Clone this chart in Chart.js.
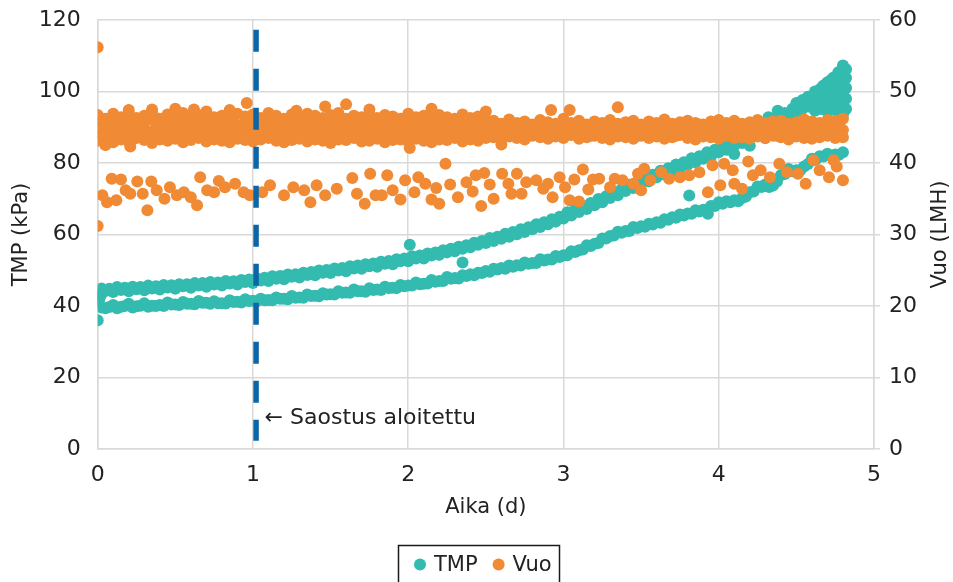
<!DOCTYPE html>
<html>
<head>
<meta charset="utf-8">
<script src="https://cdn.jsdelivr.net/npm/chart.js@4.4.1/dist/chart.umd.min.js"></script>
<style>
  html, body { margin: 0; padding: 0; background: #ffffff; }
</style>
</head>
<body>
<canvas id="chart" width="953" height="582"></canvas>
<script>
// Sample times (d) used by the dense bands
const sampleDays = [
  0.00,0.05,0.10,0.15,0.20,0.25,0.30,0.35,0.40,0.45,
  0.50,0.55,0.60,0.65,0.70,0.75,0.80,0.85,0.90,0.95,
  1.00,1.05,1.10,1.15,1.20,1.25,1.30,1.35,1.40,1.45,
  1.50,1.55,1.60,1.65,1.70,1.75,1.80,1.85,1.90,1.95,
  2.00,2.05,2.10,2.15,2.20,2.25,2.30,2.35,2.40,2.45,
  2.50,2.55,2.60,2.65,2.70,2.75,2.80,2.85,2.90,2.95,
  3.00,3.05,3.10,3.15,3.20,3.25,3.30,3.35,3.40,3.45,
  3.50,3.55,3.60,3.65,3.70,3.75,3.80,3.85,3.90,3.95,
  4.00,4.05,4.10,4.15,4.20,4.25,4.30,4.35,4.40,4.45,
  4.50,4.55,4.60,4.65,4.70,4.75,4.80
];
// in-between sample times (d)
const midDays = [
  0.025,0.075,0.125,0.175,0.225,0.275,0.325,0.375,0.425,0.475,
  0.525,0.575,0.625,0.675,0.725,0.775,0.825,0.875,0.925,0.975,
  1.025,1.075,1.125,1.175,1.225,1.275,1.325,1.375,1.425,1.475,
  1.525,1.575,1.625,1.675,1.725,1.775,1.825,1.875,1.925,1.975,
  2.025,2.075,2.125,2.175,2.225,2.275,2.325,2.375,2.425,2.475,
  2.525,2.575,2.625,2.675,2.725,2.775,2.825,2.875,2.925,2.975,
  3.025,3.075,3.125,3.175,3.225,3.275,3.325,3.375,3.425,3.475,
  3.525,3.575,3.625,3.675,3.725,3.775,3.825,3.875,3.925,3.975,
  4.025,4.075,4.125,4.175,4.225,4.275,4.325,4.375,4.425,4.475,
  4.525,4.575,4.625,4.675,4.725,4.775
];

// TMP (kPa) – upper band
const tmpUpperKpa = [
  43.6,44.2,43.9,44.5,44.1,44.7,44.4,44.9,44.6,45.2,
  44.8,45.5,45.1,45.7,45.4,46.0,45.7,46.3,46.0,46.7,
  46.4,47.1,47.0,47.6,47.5,48.2,48.0,48.7,48.6,49.3,
  49.2,49.9,49.7,50.5,50.4,51.1,51.0,51.8,51.7,52.5,
  52.5,53.3,53.3,54.1,54.3,55.0,55.3,56.0,56.4,57.1,
  57.6,58.2,58.8,59.4,60.1,60.7,61.5,62.1,62.9,63.6,
  64.5,65.3,66.3,67.1,68.2,69.0,70.2,71.0,72.2,73.0,
  74.1,74.9,76.0,76.8,77.8,78.5,79.5,80.2,81.2,81.9,
  83.0,83.7,84.9,85.6,86.9,87.8,89.2,90.3,91.8,93.0,
  94.5,95.9,97.4,99.0,100.6,102.4,104.5
];
const tmpUpperMidKpa = [
  44.9,44.8,45.3,45.1,45.4,45.3,45.7,45.5,45.9,45.8,
  46.1,46.1,46.4,46.4,46.7,46.6,47.0,46.9,47.3,47.4,
  47.7,47.9,48.3,48.4,48.8,48.9,49.3,49.5,49.9,50.1,
  50.5,50.6,51.1,51.3,51.7,51.9,52.4,52.6,53.1,53.3,
  53.9,54.1,54.7,55.0,55.6,56.0,56.6,57.0,57.7,58.2,
  59.0,59.4,60.2,60.7,61.5,62.0,62.9,63.4,64.3,65.0,
  66.2,66.9,68.0,68.8,69.9,70.7,71.9,72.7,73.9,74.7,
  75.9,76.7,77.8,78.5,79.6,80.2,81.3,81.9,83.0,83.7,
  84.9,85.7,86.8,87.7,88.9,89.9,91.3,92.5,94.0,95.2,
  97.0,98.5,100.0,101.7,103.3,105.3
];

// TMP (kPa) – lower band
const tmpLowerKpa = [
  41.2,39.4,40.3,39.8,40.6,39.9,40.8,40.1,40.3,41.0,
  40.4,41.1,40.6,41.4,40.9,41.3,40.8,41.6,41.2,41.9,
  41.5,42.0,41.7,42.4,42.0,42.8,42.4,43.2,42.9,43.6,
  43.3,44.1,43.8,44.6,44.1,45.0,44.6,45.4,45.1,45.9,
  45.7,46.6,46.2,47.3,47.0,48.1,47.8,48.6,48.9,49.3,
  49.8,50.4,50.6,51.3,51.4,52.2,52.0,53.1,53.0,54.0,
  54.2,55.3,55.6,57.0,57.4,58.9,59.6,60.8,61.0,62.1,
  62.3,63.0,63.4,64.3,64.8,65.6,65.9,66.8,66.9,68.0,
  69.0,69.3,69.6,70.2,71.8,73.4,74.0,73.7,76.6,78.3,
  78.0,79.0,81.2,81.9,82.6,82.4,83.0
];
const tmpLowerMidKpa = [
  39.6,39.7,39.4,40.0,39.6,40.1,39.8,40.0,40.0,40.4,
  40.3,40.6,40.5,40.9,40.6,40.8,40.7,41.1,41.0,41.4,
  41.3,41.6,41.6,42.0,41.9,42.3,42.3,42.8,42.7,43.2,
  43.2,43.7,43.7,44.1,44.0,44.5,44.5,45.0,45.0,45.5,
  45.7,46.1,46.3,46.8,47.0,47.6,47.7,48.4,48.6,49.2,
  49.6,50.2,50.4,51.0,51.3,51.8,52.0,52.7,53.0,53.7,
  54.2,55.1,55.8,56.8,57.6,58.9,59.7,60.5,61.0,61.8,
  62.2,62.8,63.3,64.1,64.7,65.3,65.8,66.4,66.9,68.0,
  68.6,69.0,69.3,70.6,72.0,73.3,73.3,74.8,76.9,77.7,
  78.0,79.7,81.0,81.8,82.0,82.3
];

// TMP – widening cluster at the end of the run
const tmpFanDays = [
  4.05,4.15,4.25,4.32,4.38,4.10,4.20,4.30,4.38,
  4.50,4.50,4.54,4.54,4.58,4.58,
  4.62,4.62,4.62,4.66,4.66,4.66,
  4.70,4.70,4.70,4.70,4.74,4.74,4.74,4.74,
  4.77,4.77,4.77,4.77,4.77,
  4.80,4.80,4.80,4.80,4.80,4.80,
  4.82,4.82,4.82,4.82,4.82
];
const tmpFanKpa = [
  85.5,88.0,90.5,92.8,94.6,82.5,84.8,87.0,88.6,
  94.5,96.8,95.2,97.6,95.8,98.5,
  94.6,97.2,100.0,95.1,98.0,101.0,
  94.4,97.3,100.1,102.6,95.0,98.1,101.2,103.9,
  94.2,97.0,100.0,102.9,105.4,
  93.6,96.4,99.4,102.3,104.9,107.3,
  95.1,98.0,101.0,103.8,106.2
];

// TMP – single stray points
const tmpOutlierDays = [0.00,0.00,0.01,0.02,2.01,2.35,3.81,3.93];
const tmpOutlierKpa  = [36.0,42.6,41.8,43.0,57.1,52.2,70.9,65.8];

// Vuo (LMH) – main band, layered readings
const vuoTopLmh = [
  46.7,46.2,46.9,46.4,47.0,46.3,46.6,47.1,46.2,46.8,
  46.5,47.0,46.3,46.7,47.2,46.4,46.6,46.1,46.9,46.5,
  46.8,46.3,47.0,46.6,46.2,46.8,46.4,46.9,46.6,46.3,
  46.7,47.0,46.2,46.6,46.4,46.8,46.3,46.7,46.5,46.2,
  46.9,46.4,46.6,46.1,46.7,46.4,46.2,46.8,46.3,46.5,
  46.0,45.9,45.5,46.1,45.6,45.8,45.4,46.0,45.7,45.5,
  46.2,45.6,45.9,45.4,45.8,45.6,46.0,45.5,45.7,45.9,
  45.4,45.8,45.6,46.1,45.5,45.7,45.9,45.6,45.4,45.8,
  46.0,45.6,45.9,45.5,45.7,46.0,45.6,45.8,45.9,45.5,
  45.7,46.1,45.8,45.6,46.0,45.9,46.2
];
const vuoUpperMidLmh = [
  45.8,45.4,46.1,45.6,45.9,45.3,46.0,45.7,45.5,46.2,
  45.6,45.9,45.4,46.1,45.7,45.5,46.0,45.8,45.3,45.9,
  45.7,46.1,45.5,45.8,45.6,46.0,45.4,45.9,45.7,45.5,
  46.1,45.6,45.8,45.4,46.0,45.7,45.5,45.9,45.6,45.8,
  45.4,46.0,45.7,45.5,45.9,45.6,45.8,45.4,46.0,45.7,
  45.1,45.4,45.0,45.3,44.9,45.2,45.4,45.0,45.3,44.8,
  45.2,45.0,45.4,44.9,45.1,45.3,45.0,45.2,44.8,45.3,
  45.1,44.9,45.3,45.0,45.2,44.8,45.1,45.4,45.0,45.2,
  44.9,45.3,45.1,44.8,45.2,45.0,45.3,44.9,45.1,45.4,
  45.0,45.2,44.9,45.3,45.1,45.2
];
const vuoMidLmh = [
  44.9,44.6,45.1,44.7,44.5,45.0,44.8,44.4,45.2,44.7,
  44.9,44.5,45.0,44.8,44.6,45.1,44.7,44.9,44.4,45.0,
  44.8,44.6,45.1,44.5,44.9,44.7,45.0,44.6,44.8,45.2,
  44.5,44.9,44.7,44.4,45.0,44.8,44.6,45.1,44.7,44.9,
  44.5,44.8,45.0,44.6,44.9,44.4,44.8,44.7,45.0,44.5,
  44.8,44.6,44.4,44.8,44.5,44.3,44.7,44.5,44.9,44.4,
  44.6,44.2,44.7,44.5,44.8,44.3,44.6,44.4,44.9,44.5,
  44.3,44.7,44.6,44.4,44.8,44.5,44.2,44.6,44.7,44.4,
  44.5,44.8,44.3,44.6,44.5,44.7,44.4,44.6,44.8,44.5,
  44.3,44.7,44.6,44.4,44.8,44.5,44.6
];
const vuoLowerMidLmh = [
  44.0,44.3,43.9,44.2,44.4,43.8,44.1,44.3,44.0,44.2,
  43.9,44.3,44.1,43.8,44.2,44.0,44.4,43.9,44.1,44.3,
  44.0,43.8,44.2,44.1,44.4,43.9,44.0,44.3,44.1,43.8,
  44.2,44.0,44.3,43.9,44.1,44.4,44.0,43.8,44.2,44.1,
  43.9,44.3,44.0,44.2,43.8,44.1,44.3,44.0,43.9,44.2,
  44.0,43.9,44.2,44.0,44.1,43.8,44.1,44.0,43.9,44.2,
  43.9,44.1,44.0,43.8,44.2,44.0,43.9,44.1,44.0,43.8,
  44.2,44.0,43.9,44.1,43.8,44.0,44.2,43.9,44.1,44.0,
  43.8,44.1,44.0,44.2,43.9,44.0,44.1,43.8,44.2,44.0,
  43.9,44.1,44.0,43.9,44.2,44.0
];
const vuoLowLmh = [
  43.1,43.4,42.9,43.3,43.0,43.5,43.2,42.8,43.3,43.1,
  43.4,42.9,43.2,43.5,43.0,43.3,43.1,42.9,43.4,43.2,
  43.0,43.3,43.5,43.1,42.9,43.2,43.4,43.0,43.3,43.1,
  42.8,43.3,43.2,43.5,43.0,43.1,43.4,42.9,43.2,43.3,
  43.0,43.4,43.1,42.9,43.3,43.2,43.5,43.0,43.3,43.1,
  43.5,43.6,43.4,43.7,43.5,43.3,43.8,43.6,43.4,43.7,
  43.5,43.9,43.4,43.6,43.8,43.5,43.3,43.7,43.6,43.4,
  43.8,43.5,43.7,43.4,43.6,43.9,43.5,43.3,43.7,43.6,
  43.4,43.8,43.5,43.6,43.4,43.7,43.5,43.8,43.6,43.3,
  43.7,43.5,43.4,43.6,43.8,43.5,43.6
];

// Vuo – lower scattered readings
const vuoScatterDays = [
  0.00,0.03,0.06,0.09,0.12,0.15,0.18,0.21,0.255,0.29,
  0.32,0.345,0.38,0.43,0.465,0.51,0.555,0.60,0.64,0.66,
  0.705,0.75,0.78,0.82,0.885,0.94,0.98,1.06,1.11,1.20,
  1.26,1.33,1.37,1.41,1.465,1.54,1.64,1.67,1.72,1.755,
  1.79,1.83,1.865,1.90,1.95,1.98,2.04,2.065,2.11,2.15,
  2.18,2.20,2.24,2.27,2.32,2.375,2.415,2.435,2.47,2.49,
  2.525,2.55,2.605,2.645,2.665,2.70,2.73,2.76,2.825,2.87,
  2.90,2.93,2.975,3.01,3.04,3.07,3.10,3.125,3.16,3.19,
  3.23,3.30,3.33,3.38,3.45,3.48,3.50,3.52,3.56,3.63,
  3.68,3.75,3.81,3.875,3.93,3.96,4.01,4.035,4.09,4.10,
  4.15,4.19,4.22,4.27,4.33,4.39,4.44,4.51,4.56,4.61,
  4.65,4.71,4.74,4.76,4.80
];
const vuoScatterLmh = [
  31.2,35.5,34.5,37.8,34.8,37.7,36.2,35.7,37.4,35.7,
  33.4,37.4,36.2,35.0,36.6,35.5,35.9,35.2,34.1,38.0,
  36.2,35.9,37.5,36.6,37.1,35.9,35.5,35.9,36.9,35.5,
  36.6,36.2,34.5,36.9,35.5,36.4,37.9,35.7,34.3,38.5,
  35.5,35.5,38.3,36.2,34.9,37.6,35.9,38.0,37.1,34.9,
  36.5,34.3,39.9,37.0,35.2,37.3,36.0,38.3,34.0,38.6,
  37.0,35.0,38.5,37.1,35.7,38.5,35.7,37.3,37.6,36.4,
  37.1,35.2,38.0,36.6,34.8,37.7,34.6,39.1,36.3,37.7,
  37.8,36.6,37.8,37.6,37.1,38.5,36.2,39.2,37.6,38.7,
  37.8,38.0,38.3,38.7,35.9,39.7,36.9,39.9,39.0,37.1,
  36.4,40.2,38.3,39.0,38.0,39.9,38.7,38.5,37.1,40.4,
  39.0,38.0,40.4,39.5,37.6
];

// Vuo – single stray points around the main band
const vuoOutlierDays = [0.00,0.20,0.35,0.50,0.62,0.85,0.96,1.28,1.465,1.60,1.75,2.15,2.50,2.92,3.04,3.35,0.21,2.01,0.05,2.60];
const vuoOutlierLmh  = [56.2,47.4,47.5,47.6,47.5,47.4,48.4,47.3,47.9,48.2,47.5,47.6,47.2,47.4,47.4,47.8,42.3,42.1,42.5,42.6];

// start of concentration marker
const startDay = 1.02;
const markerKpa = [117.3, 2.3];
const noteText = '\u2190 Saostus aloitettu';
const noteDay = 1.075;
const noteKpa = 8.7;

const legendLabels = ['TMP', 'Vuo'];

const tmpColor = '#33bbb0';
const vuoColor = '#f08a34';
const markerColor = '#0b66a8';
const gridColor = '#d9d9d9';
const textColor = '#222222';
const fontFamily = "'DejaVu Sans', 'Liberation Sans', sans-serif";

function toPoints(days, values) {
    const pts = [];
    for (let i = 0; i < days.length && i < values.length; i++) {
        pts.push({ x: days[i], y: values[i] });
    }
    return pts;
}

const tmpPoints = [].concat(
    toPoints(sampleDays, tmpUpperKpa),
    toPoints(midDays, tmpUpperMidKpa),
    toPoints(sampleDays, tmpLowerKpa),
    toPoints(midDays, tmpLowerMidKpa),
    toPoints(tmpFanDays, tmpFanKpa),
    toPoints(tmpOutlierDays, tmpOutlierKpa)
);
const vuoPoints = [].concat(
    toPoints(sampleDays, vuoTopLmh),
    toPoints(midDays, vuoUpperMidLmh),
    toPoints(sampleDays, vuoMidLmh),
    toPoints(midDays, vuoLowerMidLmh),
    toPoints(sampleDays, vuoLowLmh),
    toPoints(vuoScatterDays, vuoScatterLmh),
    toPoints(vuoOutlierDays, vuoOutlierLmh)
);

// annotation, right axis title and boxed legend
const extrasPlugin = {
    id: 'extras',
    afterDraw(chart) {
        const ctx = chart.ctx;
        const xs = chart.scales.x;
        const ys = chart.scales.y;
        const area = chart.chartArea;

        ctx.save();
        ctx.fillStyle = textColor;
        ctx.font = '22px ' + fontFamily;
        ctx.textBaseline = 'middle';
        ctx.textAlign = 'left';
        ctx.fillText(noteText, xs.getPixelForValue(noteDay), ys.getPixelForValue(noteKpa));

        // right axis title, reading bottom to top
        ctx.font = '21px ' + fontFamily;
        ctx.translate(941, (area.top + area.bottom) / 2);
        ctx.rotate(-Math.PI / 2);
        ctx.textAlign = 'center';
        ctx.fillText('Vuo (LMH)', 0, 0);
        ctx.restore();

        // legend
        ctx.save();
        ctx.font = '21px ' + fontFamily;
        ctx.textBaseline = 'middle';
        ctx.textAlign = 'left';
        const boxLeft = 398.5, boxTop = 545.5, boxRight = 559.5;
        ctx.strokeStyle = '#1a1a1a';
        ctx.lineWidth = 1.5;
        ctx.strokeRect(boxLeft, boxTop, boxRight - boxLeft, 60);
        const cy = 564.5;
        const colors = [tmpColor, vuoColor];
        let x = boxLeft + 21.5;
        legendLabels.forEach((label, i) => {
            ctx.fillStyle = colors[i];
            ctx.beginPath();
            ctx.arc(x, cy, 6, 0, Math.PI * 2);
            ctx.fill();
            ctx.fillStyle = textColor;
            ctx.fillText(label, x + 14, cy + 1);
            x += 14 + ctx.measureText(label).width + 21;
        });
        ctx.restore();
    }
};

function fixVertical(width) {
    return function(scale) {
        scale.width = width;
        scale.paddingTop = 0;
        scale.paddingBottom = 0;
    };
}

new Chart(document.getElementById('chart'), {
    type: 'scatter',
    data: {
        datasets: [
            {
                label: 'marker',
                data: [{ x: startDay, y: markerKpa[0] }, { x: startDay, y: markerKpa[1] }],
                showLine: true,
                borderColor: markerColor,
                borderWidth: 5.5,
                borderDash: [22, 17],
                pointRadius: 0,
                yAxisID: 'y',
                order: 0
            },
            {
                label: legendLabels[1],
                data: vuoPoints,
                backgroundColor: vuoColor,
                borderWidth: 0,
                pointRadius: 6,
                yAxisID: 'y2',
                order: 1
            },
            {
                label: legendLabels[0],
                data: tmpPoints,
                backgroundColor: tmpColor,
                borderWidth: 0,
                pointRadius: 6,
                yAxisID: 'y',
                order: 2
            }
        ]
    },
    options: {
        responsive: false,
        animation: false,
        events: [],
        layout: { padding: { top: 20, left: 5, right: 0, bottom: 60 } },
        plugins: {
            legend: { display: false },
            tooltip: { enabled: false }
        },
        scales: {
            x: {
                type: 'linear',
                min: 0,
                max: 5,
                ticks: { stepSize: 1, padding: 13, color: textColor, font: { family: fontFamily, size: 22 } },
                grid: { color: gridColor, lineWidth: 1.5, drawTicks: false },
                border: { color: gridColor, width: 1.5 },
                title: { display: true, text: 'Aika (d)', color: textColor, font: { family: fontFamily, size: 21 }, padding: { top: 4, bottom: 2 } },
                afterFit: function(scale) { scale.height = 73; }
            },
            y: {
                position: 'left',
                min: 0,
                max: 120,
                ticks: { stepSize: 20, padding: 17, color: textColor, font: { family: fontFamily, size: 22 } },
                grid: { color: gridColor, lineWidth: 1.5, drawTicks: false },
                border: { color: gridColor, width: 1.5 },
                title: { display: true, text: 'TMP (kPa)', color: textColor, font: { family: fontFamily, size: 21 }, padding: { top: 4, bottom: 4 } },
                afterFit: fixVertical(92.7)
            },
            y2: {
                position: 'right',
                min: 0,
                max: 60,
                ticks: { stepSize: 10, padding: 9, color: textColor, font: { family: fontFamily, size: 22 } },
                grid: { drawOnChartArea: false, drawTicks: true, tickLength: 6, color: gridColor, lineWidth: 1.5 },
                border: { color: gridColor, width: 1.5 },
                afterFit: fixVertical(79)
            }
        }
    },
    plugins: [extrasPlugin]
});
</script>
</body>
</html>
